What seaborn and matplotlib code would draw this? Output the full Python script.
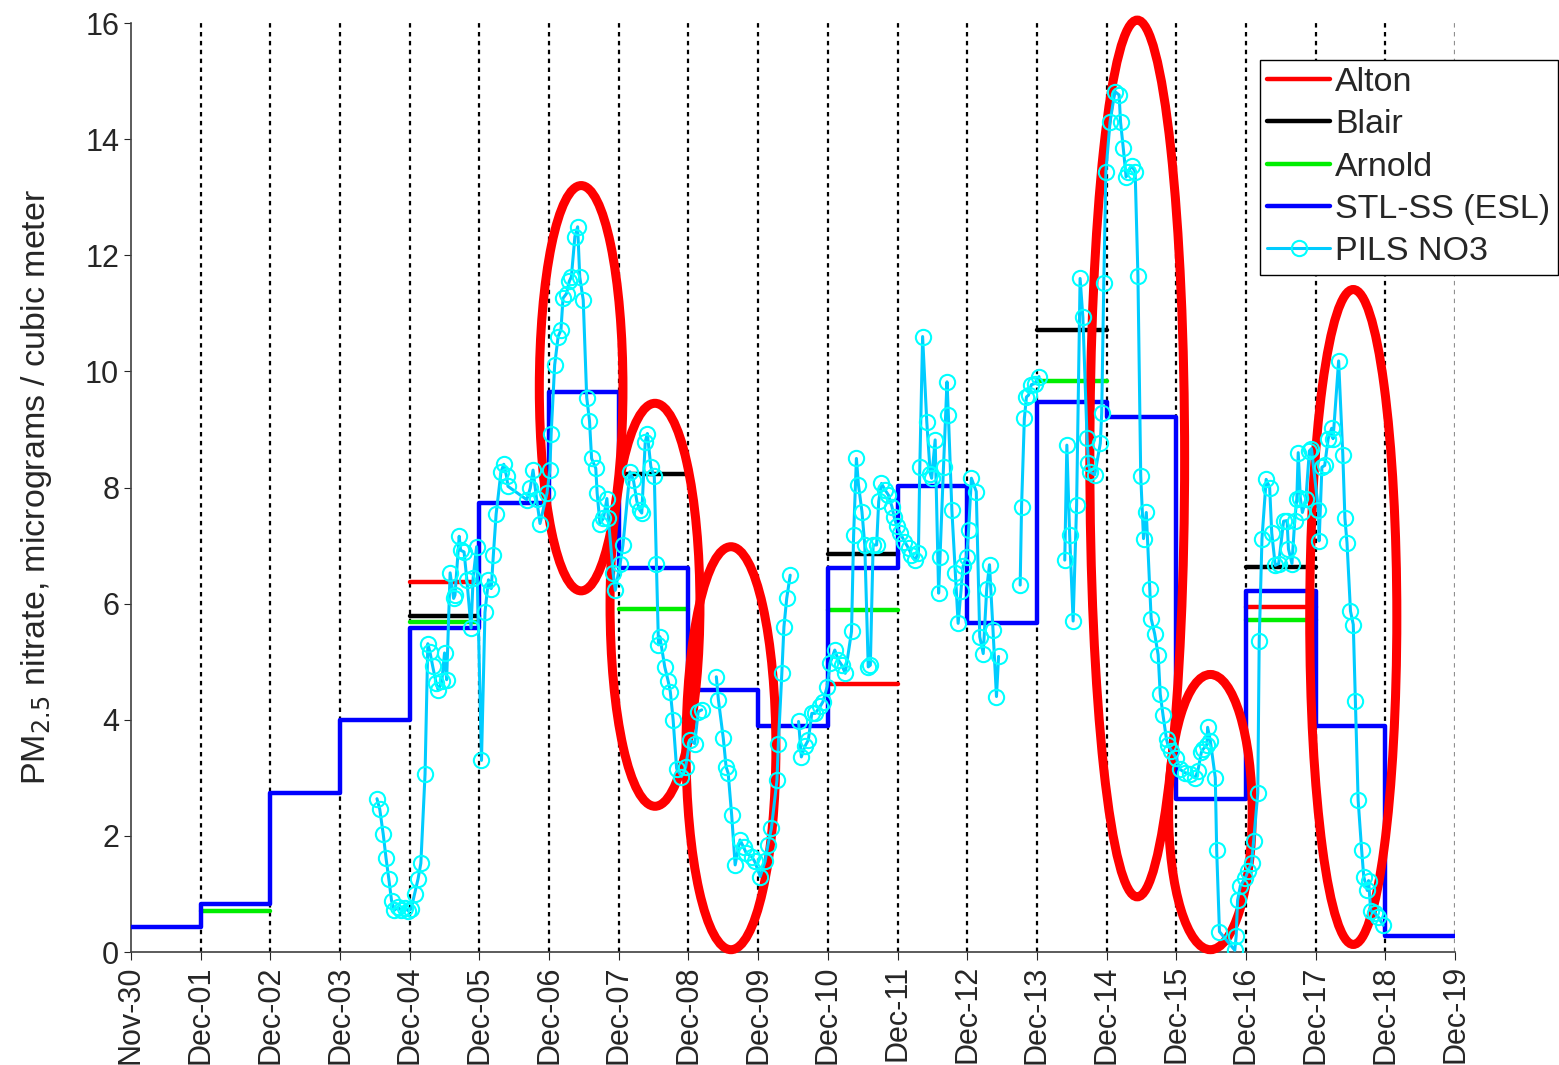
import numpy as np
import pandas as pd
import seaborn as sns
import matplotlib.pyplot as plt
from matplotlib.patches import Ellipse
from matplotlib.lines import Line2D

# day index 0 = Nov-30
tick_labels = ["Nov-30"] + ["Dec-%02d" % d for d in range(1, 20)]

# STL-SS (ESL) daily filter values, last value repeated to close the step at Dec-19
stl_days = list(range(20))
stl_vals = [0.43, 0.83, 2.74, 3.99, 5.58, 7.73, 9.65, 6.61, 4.51, 3.89,
            6.61, 8.03, 5.67, 9.47, 9.22, 2.63, 6.21, 3.89, 0.28, 0.28]

alton_days = [4, 10, 16]
alton_vals = [6.37, 4.61, 5.95]
blair_days = [4, 7, 10, 13, 16]
blair_vals = [5.78, 8.23, 6.86, 10.71, 6.63]
arnold_days = [1, 4, 7, 10, 13, 16]
arnold_vals = [0.71, 5.68, 5.90, 5.89, 9.84, 5.71]

# PILS NO3 semi-continuous data (nan = gap in record)
pils_day = [3.53, 3.57, 3.62, 3.66, 3.70, 3.74, 3.78, 3.83, 3.88, 3.93, 3.98, 4.02, 4.07, 4.12, 4.16,
            4.22, 4.26, 4.29, 4.33, 4.38, 4.41, 4.46, 4.50, 4.53, 4.58, 4.63, 4.65, 4.71, 4.73, 4.78,
            4.82, 4.88, 4.91, 4.96, 5.03, 5.08, 5.13, 5.17, 5.20, 5.24, 5.31, 5.35, 5.39, 5.41, 5.68,
            5.73, 5.77, 5.82, 5.87, 5.97, 6.01, 6.03, 6.08, 6.13, 6.17, 6.20, 6.25, 6.29, 6.32, 6.37,
            6.41, 6.44, 6.49, 6.54, 6.58, 6.61, 6.67, 6.69, 6.73, 6.78, 6.83, 6.85, 6.92, 6.95, 7.02,
            7.06, 7.16, 7.21, 7.26, 7.30, 7.33, 7.38, 7.41, 7.46, 7.51, 7.54, 7.57, 7.59, 7.66, 7.71,
            7.74, 7.78, 7.83, 7.90, 7.96, 8.02, 8.09, 8.14, 8.19, np.nan,
            8.40, 8.43, 8.50, 8.54, 8.57, 8.62, 8.67, 8.74, 8.79, 8.83, 8.91, 8.95, 9.03, 9.10, 9.14,
            9.19, 9.27, 9.29, 9.34, 9.37, 9.41, 9.46, np.nan,
            9.58, 9.62, 9.67, 9.72, 9.77, 9.82, 9.89, 9.93, 9.99, 10.03, 10.10, 10.15, 10.20, 10.25,
            10.34, 10.37, 10.41, 10.44, 10.49, 10.53, 10.58, 10.61, 10.65, 10.70, 10.73, 10.77, 10.82,
            10.87, 10.92, 10.95, 10.99, 11.04, 11.10, 11.16, 11.20, 11.25, 11.30, 11.32, 11.36, 11.42,
            11.47, 11.49, 11.54, 11.59, 11.61, 11.66, 11.71, 11.73, 11.78, 11.83, 11.87, 11.91, 11.94,
            11.99, 12.02, 12.06, 12.13, 12.18, 12.23, 12.28, 12.32, 12.37, 12.42, 12.45, np.nan,
            12.76, 12.78, 12.82, 12.85, 12.88, 12.92, 12.97, 13.03, np.nan,
            13.40, 13.43, 13.47, 13.52, 13.57, 13.62, 13.66, 13.72, 13.74, 13.76, 13.83, 13.91, 13.93,
            13.96, 13.99, 14.05, 14.12, 14.18, 14.20, 14.24, 14.28, 14.31, 14.36, 14.41, 14.45, 14.49,
            14.53, 14.57, 14.62, 14.64, 14.69, 14.74, 14.77, 14.81, 14.86, 14.88, 14.93, 15.00, 15.05,
            15.12, 15.20, 15.27, 15.31, 15.36, 15.39, 15.44, 15.45, 15.49, 15.56, 15.58, 15.62, 15.84,
            15.86, 15.88, 15.92, 15.99, 16.03, 16.08, 16.11, 16.17, 16.19, 16.23, 16.29, 16.34, 16.37,
            16.42, 16.47, 16.54, 16.59, 16.61, 16.66, 16.70, 16.73, 16.75, 16.78, 16.81, 16.86, 16.91,
            16.94, 17.04, 17.05, 17.09, 17.13, 17.18, 17.23, 17.25, 17.33, 17.39, 17.42, 17.45, 17.50,
            17.54, 17.57, 17.61, 17.66, 17.69, 17.74, 17.76, 17.79, 17.85, 17.90, 17.97]
pils_val = [2.64, 2.46, 2.03, 1.62, 1.26, 0.88, 0.72, 0.77, 0.72, 0.76, 0.71, 0.74, 1.00, 1.26, 1.53,
            3.06, 5.31, 5.17, 4.92, 4.63, 4.51, 4.66, 5.15, 4.69, 6.53, 6.09, 6.15, 7.16, 6.92, 6.89,
            6.41, 5.58, 6.44, 6.98, 3.30, 5.85, 6.41, 6.26, 6.83, 7.54, 8.27, 8.40, 8.19, 8.02, 7.79,
            7.99, 8.30, 7.81, 7.38, 7.90, 8.30, 8.93, 10.11, 10.60, 10.71, 11.26, 11.34, 11.55, 11.63, 12.32,
            12.49, 11.63, 11.23, 9.55, 9.15, 8.50, 8.33, 7.90, 7.38, 7.47, 7.81, 7.47, 6.52, 6.23, 6.69,
            7.01, 8.27, 8.13, 7.76, 7.61, 7.56, 8.79, 8.93, 8.36, 8.19, 6.69, 5.29, 5.43, 4.91, 4.66,
            4.48, 4.00, 3.16, 3.02, 3.19, 3.65, 3.59, 4.14, 4.17, np.nan,
            4.74, 4.34, 3.68, 3.19, 3.08, 2.36, 1.50, 1.93, 1.81, 1.70, 1.64, 1.56, 1.30, 1.56, 1.84,
            2.13, 2.96, 3.59, 4.80, 5.60, 6.09, 6.49, np.nan,
            3.97, 3.36, 3.54, 3.65, 4.11, 4.11, 4.23, 4.31, 4.57, 4.97, 5.20, 5.03, 4.94, 4.80,
            5.52, 7.18, 8.50, 8.04, 7.58, 7.01, 4.91, 4.94, 7.01, 7.01, 7.76, 8.07, 7.96,
            7.87, 7.67, 7.50, 7.33, 7.21, 7.07, 6.95, 6.84, 6.75, 6.87, 8.36, 10.60, 9.13,
            8.24, 8.16, 8.82, 6.18, 6.81, 8.36, 9.82, 9.25, 7.61, 6.52, 5.66, 6.21, 6.64,
            6.81, 7.27, 8.16, 7.93, 5.43, 5.14, 6.26, 6.67, 5.55, 4.40, 5.09, np.nan,
            6.32, 7.67, 9.19, 9.56, 9.59, 9.77, 9.79, 9.91, np.nan,
            6.75, 8.73, 7.18, 5.70, 7.70, 11.60, 10.93, 8.85, 8.42, 8.27, 8.22, 8.76, 9.28,
            11.53, 13.44, 14.30, 14.82, 14.76, 14.30, 13.84, 13.35, 13.44, 13.54, 13.44, 11.64, 8.20,
            7.12, 7.57, 6.25, 5.74, 5.48, 5.12, 4.44, 4.08, 3.66, 3.57, 3.47, 3.34, 3.15,
            3.09, 3.06, 3.00, 3.12, 3.44, 3.50, 3.57, 3.87, 3.63, 3.00, 1.75, 0.35, 0.03,
            0.28, 0.89, 1.14, 1.27, 1.40, 1.53, 1.91, 2.74, 5.35, 7.12, 8.14, 8.00, 7.22,
            6.66, 6.69, 7.42, 7.43, 6.94, 6.69, 7.43, 7.81, 8.60, 7.82, 7.57, 7.80, 8.63,
            8.67, 7.61, 7.08, 8.35, 8.38, 8.84, 9.02, 8.84, 10.18, 8.56, 7.47, 7.05, 5.87,
            5.64, 4.33, 2.61, 1.76, 1.30, 1.06, 1.23, 0.71, 0.67, 0.60, 0.46]

# highlighted episodes: (centre day, centre value, width in days, height)
episodes = [(6.46, 9.71, 1.20, 6.98), (7.52, 5.98, 1.29, 6.94), (8.61, 3.51, 1.29, 6.94),
            (14.44, 8.50, 1.36, 15.10), (15.49, 2.41, 1.20, 4.74), (17.54, 5.77, 1.25, 11.28)]

sns.set_style("white")
plt.rcParams['font.family'] = ['Liberation Sans', 'DejaVu Sans']

fig = plt.figure(figsize=(15.59, 10.65), dpi=100)
ax = fig.add_axes([0.084, 0.1061, 0.8493, 0.8723])

for d in range(1, 20):
    ax.axvline(d, color='black' if d < 19 else '#909090', linestyle=(0, (2, 2)), lw=1.6, zorder=1)


def site_frame(days, vals):
    rows = []
    for d, v in zip(days, vals):
        rows.append({'x': d, 'y': v, 'u': d})
        rows.append({'x': d + 1, 'y': v, 'u': d})
    return pd.DataFrame(rows)


for days, vals, col in [(alton_days, alton_vals, '#FF0000'),
                        (blair_days, blair_vals, '#000000'),
                        (arnold_days, arnold_vals, '#00EE00')]:
    sns.lineplot(data=site_frame(days, vals), x='x', y='y', units='u', estimator=None,
                 color=col, lw=3.2, ax=ax, zorder=3)

stl = pd.DataFrame({'x': stl_days, 'y': stl_vals})
sns.lineplot(data=stl, x='x', y='y', color='#0000FF', lw=3.2, drawstyle='steps-post',
             estimator=None, ax=ax, zorder=4)

pils = pd.DataFrame({'x': pils_day, 'y': pils_val})
pils['seg'] = pils['x'].isna().cumsum()
pils = pils.dropna()
sns.lineplot(data=pils, x='x', y='y', units='seg', estimator=None, sort=False,
             color='#00CCFF', lw=2.2, marker='o', markersize=11, markerfacecolor='none',
             markeredgecolor='#00FFFF', markeredgewidth=1.5, ax=ax, zorder=6)

for cx, cy, w, h in episodes:
    ax.add_patch(Ellipse((cx, cy), w, h, fill=False, edgecolor='#FF0000', lw=6.5,
                         zorder=5, clip_on=False))

ax.set_xlim(0, 19)
ax.set_ylim(0, 16)
ax.set_xticks(range(20))
ax.set_xticklabels(tick_labels, rotation=90, fontsize=22)
ax.set_yticks(range(0, 17, 2))
ax.tick_params(axis='y', labelsize=22, length=5, direction='out', left=True)
ax.tick_params(axis='x', length=6, direction='out', bottom=True)
ax.set_xlabel('')
ax.set_ylabel('PM$_{2.5}$ nitrate, micrograms / cubic meter', fontsize=24.5, labelpad=22)
for s in ['top', 'right']:
    ax.spines[s].set_visible(False)
for s in ['left', 'bottom']:
    ax.spines[s].set_color('#404040')
    ax.spines[s].set_linewidth(1.2)

handles = [Line2D([], [], color='#FF0000', lw=3.2),
           Line2D([], [], color='#000000', lw=3.2),
           Line2D([], [], color='#00EE00', lw=3.2),
           Line2D([], [], color='#0000FF', lw=3.2),
           Line2D([], [], color='#00CCFF', lw=2.2, marker='o', markersize=11,
                  markerfacecolor='none', markeredgecolor='#00FFFF', markeredgewidth=1.5)]
labels = ['Alton', 'Blair', 'Arnold', 'STL-SS (ESL)', 'PILS NO3']
leg = ax.legend(handles, labels, loc='upper left', bbox_to_anchor=(0.808, 0.944),
                bbox_transform=fig.transFigure, fontsize=24.5, frameon=True, fancybox=False,
                framealpha=1, edgecolor='black', handlelength=1.85, handletextpad=0.15,
                labelspacing=0.33, borderpad=0.22, borderaxespad=0)
leg.get_frame().set_linewidth(1.0)
leg.set_zorder(10)

fig.savefig('out.png', dpi=100)
